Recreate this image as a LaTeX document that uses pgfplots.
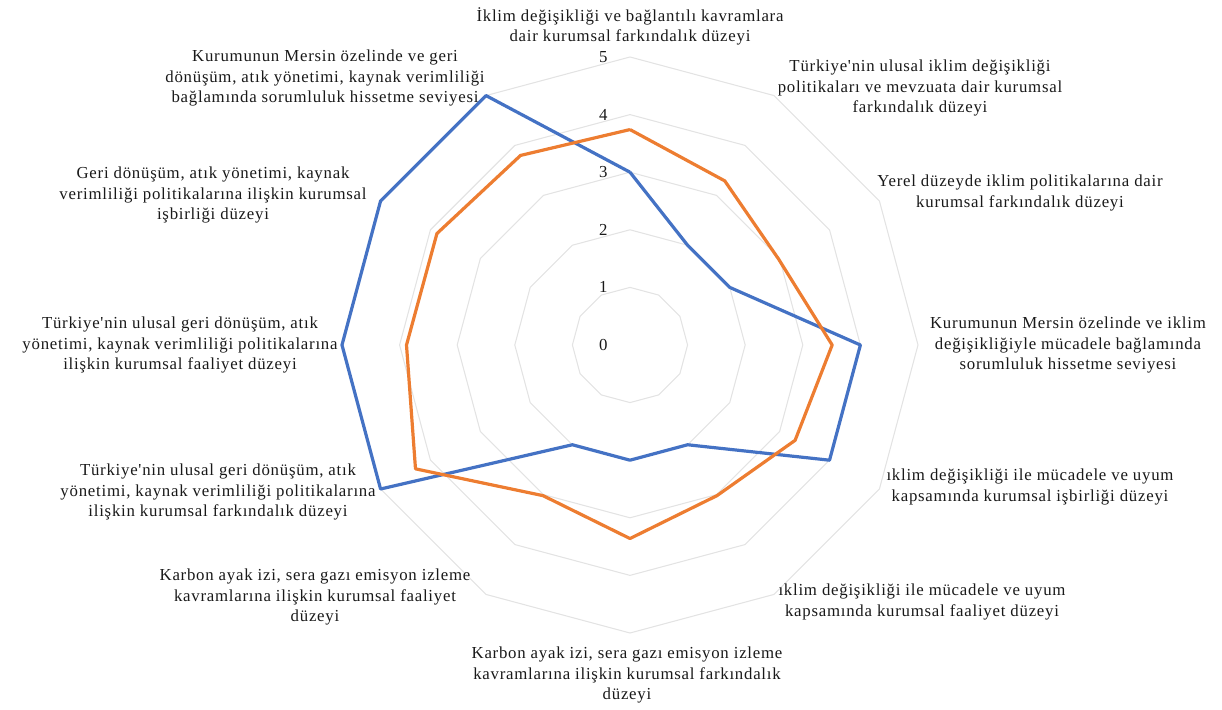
\documentclass[border=0pt]{standalone}
\usepackage{fontspec}
\setmainfont{Liberation Serif}
\newfontfamily\lblfont[LetterSpace=4.5]{Liberation Serif}
\usepackage{pgfplots}
\pgfplotsset{compat=1.18}

\definecolor{sblue}{HTML}{4472C4}
\definecolor{sorange}{HTML}{ED7D31}
\definecolor{gridc}{HTML}{E3E3E3}
\tikzset{lbl/.style={font=\lblfont\fontsize{12.6}{15.6}\selectfont, align=center, text=black!90}}

\begin{document}
\begin{tikzpicture}
\begin{axis}[
	x=43.2pt, y=43.2pt,
	xmin=-5, xmax=5, ymin=-5, ymax=5,
	hide axis, clip=false,
	]
	% radar grid
	\pgfplotsinvokeforeach{1,2,3,4,5}{
		\addplot[data cs=polar, gridc, line width=0.8pt, no markers] coordinates {
			(90,#1) (60,#1) (30,#1) (0,#1) (-30,#1) (-60,#1) (-90,#1)
			(-120,#1) (-150,#1) (180,#1) (150,#1) (120,#1) (90,#1)
		};
	}

	% series 1 (blue)
	\addplot[data cs=polar, sblue, line width=2.4pt, no markers, line join=round] coordinates {
		(90,3) (60,2) (30,2) (0,4) (-30,4) (-60,2) (-90,2)
		(-120,2) (-150,5) (180,5) (150,5) (120,5) (90,3)
	};
	% series 2 (orange)
	\addplot[data cs=polar, sorange, line width=2.4pt, no markers, line join=round] coordinates {
		(90,3.74) (60,3.29) (30,2.98) (0,3.51) (-30,3.31) (-60,3.02) (-90,3.36)
		(-120,3.02) (-150,4.30) (180,3.88) (150,3.87) (120,3.80) (90,3.74)
	};

	\coordinate (O) at (axis cs:0,0);

	% radial tick labels
	\pgfplotsinvokeforeach{0,1,2,3,4,5}{
		\node[lbl] at ([xshift=-20pt]axis cs:0,#1) {#1};
	}

	% category labels
	\node[lbl] at ([shift={(0pt,239pt)}]axis cs:0,0)
		{İklim değişikliği ve bağlantılı kavramlara\\dair kurumsal farkındalık düzeyi};
	\node[lbl] at ([shift={(217.5pt,192.75pt)}]axis cs:0,0)
		{Türkiye'nin ulusal iklim değişikliği\\politikaları ve mevzuata dair kurumsal\\farkındalık düzeyi};
	\node[lbl] at ([shift={(292.5pt,114pt)}]axis cs:0,0)
		{Yerel düzeyde iklim politikalarına dair\\kurumsal farkındalık düzeyi};
	\node[lbl] at ([shift={(328.5pt,0pt)}]axis cs:0,0)
		{Kurumunun Mersin özelinde ve iklim\\değişikliğiyle mücadele bağlamında\\sorumluluk hissetme seviyesi};
	\node[lbl] at ([shift={(300pt,-106.5pt)}]axis cs:0,0)
		{ıklim değişikliği ile mücadele ve uyum\\kapsamında kurumsal işbirliği düzeyi};
	\node[lbl] at ([shift={(219pt,-192.75pt)}]axis cs:0,0)
		{ıklim değişikliği ile mücadele ve uyum\\kapsamında kurumsal faaliyet düzeyi};
	\node[lbl] at ([shift={(-2.25pt,-247.5pt)}]axis cs:0,0)
		{Karbon ayak izi, sera gazı emisyon izleme\\kavramlarına ilişkin kurumsal farkındalık\\düzeyi};
	\node[lbl] at ([shift={(-236.25pt,-189pt)}]axis cs:0,0)
		{Karbon ayak izi, sera gazı emisyon izleme\\kavramlarına ilişkin kurumsal faaliyet\\düzeyi};
	\node[lbl] at ([shift={(-309pt,-110.25pt)}]axis cs:0,0)
		{Türkiye'nin ulusal geri dönüşüm, atık\\yönetimi, kaynak verimliliği politikalarına\\ilişkin kurumsal farkındalık düzeyi};
	\node[lbl] at ([shift={(-337.5pt,0pt)}]axis cs:0,0)
		{Türkiye'nin ulusal geri dönüşüm, atık\\yönetimi, kaynak verimliliği politikalarına\\ilişkin kurumsal faaliyet düzeyi};
	\node[lbl] at ([shift={(-312.75pt,112.5pt)}]axis cs:0,0)
		{Geri dönüşüm, atık yönetimi, kaynak\\verimliliği politikalarına ilişkin kurumsal\\işbirliği düzeyi};
	\node[lbl] at ([shift={(-228.75pt,200.25pt)}]axis cs:0,0)
		{Kurumunun Mersin özelinde ve geri\\dönüşüm, atık yönetimi, kaynak verimliliği\\bağlamında sorumluluk hissetme seviyesi};
\end{axis}
\pgfresetboundingbox
\path ([shift={(-472.5pt,-273.75pt)}]O) rectangle ([shift={(444pt,258.75pt)}]O);
\end{tikzpicture}
\end{document}
